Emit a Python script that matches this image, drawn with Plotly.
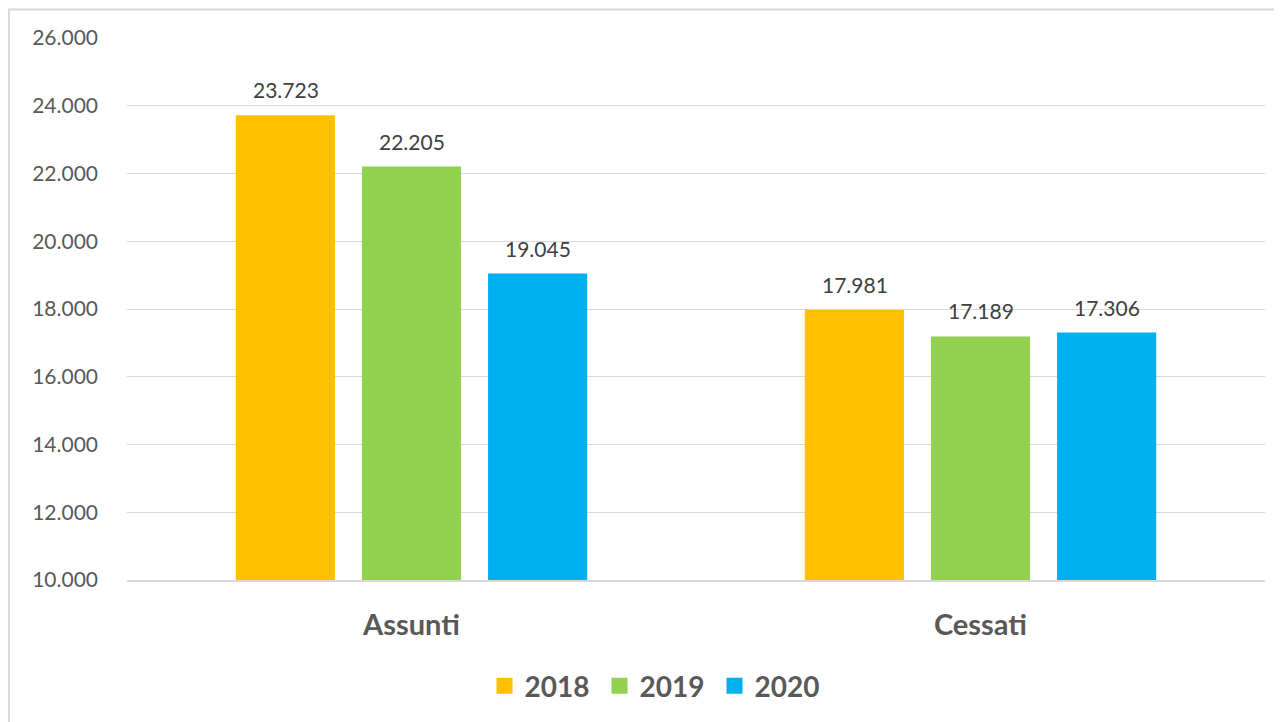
import plotly.graph_objects as go

categories = ["Assunti", "Cessati"]
years = ["2018", "2019", "2020"]
values_2018 = [23723, 17981]
values_2019 = [22205, 17189]
values_2020 = [19045, 17306]
series_values = [values_2018, values_2019, values_2020]
colors = ["#FFC000", "#92D050", "#00B0F0"]
tick_vals = [10000, 12000, 14000, 16000, 18000, 20000, 22000, 24000, 26000]

# page has 8px body margin, so figure is placed at (8, 8)
OFF = 8
W, H = 1282 - OFF, 722 - OFF
ml, mr, mt, mb = 127 - OFF, 17, 38 - OFF, 141
pw = W - ml - mr
ph = H - mt - mb

FONT = "Lato"

fig = go.Figure()
for yr, vals, col in zip(years, series_values, colors):
    fig.add_trace(go.Bar(x=categories, y=vals, name=yr, marker_color=col,
                         marker_line_width=0, showlegend=False, legendgroup=yr))
    fig.add_trace(go.Scatter(x=[None], y=[None], mode="markers", name=yr,
                             marker=dict(symbol="square", size=16, color=col),
                             legendgroup=yr, showlegend=True))

slot = 126
for i, vals in enumerate(series_values):
    for cat, v in zip(categories, vals):
        fig.add_annotation(x=cat, y=v, text=f"{v:,}".replace(",", "."),
                           xshift=(i - 1) * slot, yshift=11, yanchor="bottom",
                           showarrow=False,
                           font=dict(family=FONT, size=21, color="#404040"))

# outer border (page coords left=9, top=9.5)
fig.add_shape(type="rect", xref="paper", yref="paper",
              x0=(9 - OFF - ml) / pw, x1=(W + 10 - ml) / pw,
              y0=(H - mb - (H + 10)) / ph, y1=(H - mb - (9.5 - OFF)) / ph,
              line=dict(color="#D9D9D9", width=2), layer="below")

fig.update_layout(
    width=W, height=H,
    margin=dict(l=ml, r=mr, t=mt, b=mb, pad=0),
    paper_bgcolor="white", plot_bgcolor="white",
    barmode="group", bargap=0.335, bargroupgap=0.214,
    separators=",.",
    font=dict(family=FONT, color="#595959"),
    legend=dict(orientation="h", x=(657 - 127) / pw, xanchor="center",
                y=(581 - 686) / ph, yanchor="middle", entrywidth=70,
                font=dict(family=FONT, size=28, color="#595959", weight="bold"),
                itemclick=False, bgcolor="rgba(0,0,0,0)"),
    xaxis=dict(showline=True, linecolor="#D9D9D9", linewidth=2,
               ticks="", ticklabelstandoff=18,
               tickfont=dict(family=FONT, size=29, color="#595959", weight="bold")),
    yaxis=dict(range=[10000, 26000], tickvals=tick_vals, tickformat=",d",
               showgrid=True, gridcolor="#D9D9D9", gridwidth=1.3,
               zeroline=False, showline=False, ticks="",
               ticklabelstandoff=28,
               tickfont=dict(family=FONT, size=21, color="#595959")),
)

fig.write_html("out.html")
